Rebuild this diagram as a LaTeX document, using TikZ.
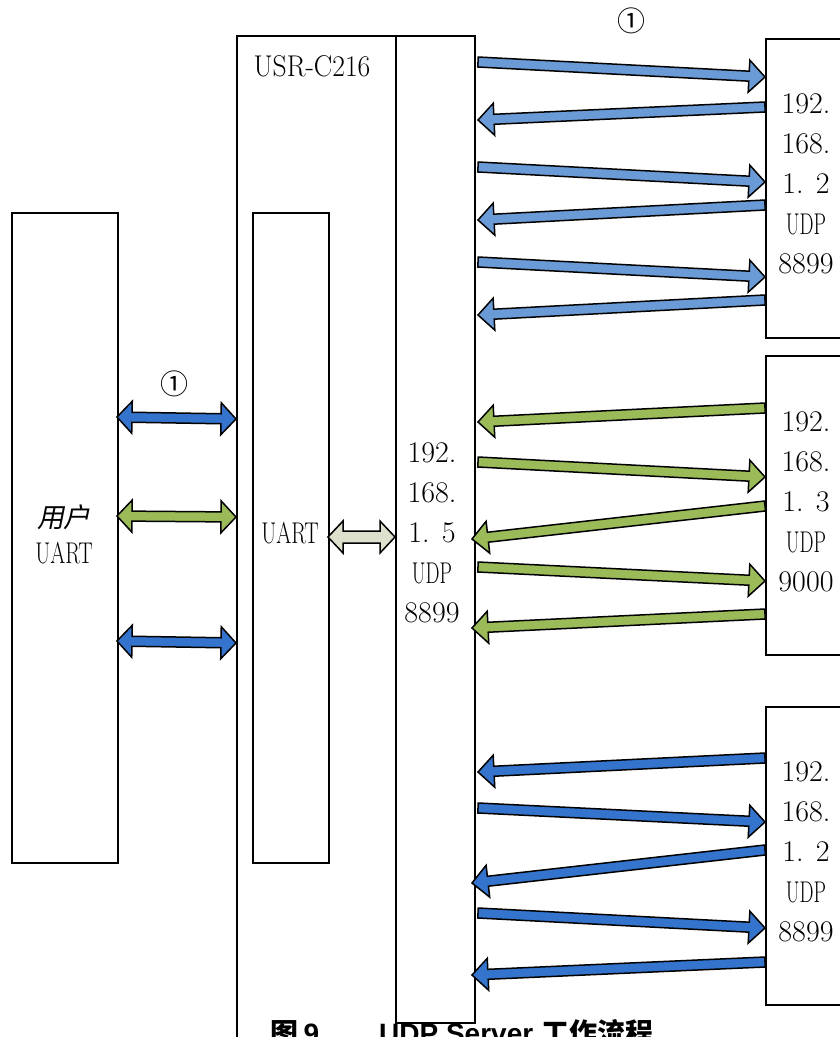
\documentclass[tikz,border=0pt]{standalone}
\usepackage{fontspec}
\usetikzlibrary{calc}
\newfontfamily\cjk[FakeSlant=0.2]{Noto Sans CJK SC}
\newfontfamily\capcjk{Noto Sans CJK SC}
\newfontfamily\capsans{Liberation Sans}
\definecolor{lblue}{RGB}{106,155,214}
\definecolor{dblue}{RGB}{52,116,204}
\definecolor{lgreen}{RGB}{155,187,89}
\definecolor{pale}{RGB}{221,224,204}
\newcommand\nar[2]{\scalebox{#1}[1]{#2}}
\tikzset{
  box/.style={draw, line width=1.6pt, fill=white, anchor=north west, inner sep=0pt},
  lbl/.style={font=\fontsize{30}{32}\selectfont, inner sep=0pt},
  arrline/.style={draw=black, line width=1.5pt, line join=miter},
  circnum/.style={font=\capcjk\fontsize{28}{30}\selectfont, inner sep=0pt},
}
\newcommand\blkarrow[3]{%
  \coordinate (blkH) at ($(#2)!16pt!(#1)$);
  \filldraw[arrline, fill=#3] ($(#1)!5pt!90:(#2)$) -- ($(blkH)!5pt!90:(#2)$) -- ($(blkH)!16pt!90:(#2)$) -- (#2)
    -- ($(blkH)!16pt!-90:(#2)$) -- ($(blkH)!5pt!-90:(#2)$) -- ($(#1)!5pt!-90:(#2)$) -- cycle;}
\newcommand\dblarrow[4]{%
  \coordinate (blkA) at ($(#1)!15pt!(#2)$);
  \coordinate (blkB) at ($(#2)!15pt!(#1)$);
  \filldraw[arrline, fill=#3] (#1) -- ($(blkA)!16pt!90:(#2)$) -- ($(blkA)!#4!90:(#2)$) -- ($(blkB)!#4!90:(#2)$)
    -- ($(blkB)!16pt!90:(#2)$) -- (#2) -- ($(blkB)!16pt!-90:(#2)$) -- ($(blkB)!#4!-90:(#2)$)
    -- ($(blkA)!#4!-90:(#2)$) -- ($(blkA)!16pt!-90:(#2)$) -- cycle;}
\begin{document}
\begin{tikzpicture}[x=1pt,y=-1pt]
\useasboundingbox (0,0) rectangle (839,1037);
% boxes
\node[box, minimum width=106pt, minimum height=650pt] (user) at (11,212) {};
\node[box, minimum width=159pt, minimum height=1020pt] (usr) at (236,35) {};
\node[box, minimum width=79pt, minimum height=987pt] (col) at (395,35) {};
\node[box, minimum width=76pt, minimum height=650pt] (uart) at (252,212) {};
\node[box, minimum width=100pt, minimum height=299pt] (r1) at (765,38) {};
\node[box, minimum width=100pt, minimum height=299pt] (r2) at (765,355) {};
\node[box, minimum width=100pt, minimum height=298pt] (r3) at (765,706) {};
% texts
\node[lbl] (tusr) at (312,66) {\nar{0.92}{USR-C216}};
\node[lbl, font=\cjk\fontsize{27}{30}\selectfont] (tuser1) at (64,517) {用户};
\node[lbl] (tuser2) at (64,553) {\nar{0.72}{UART}};
\node[lbl] (tuart) at (290,533) {\nar{0.72}{UART}};
\foreach \t [count=\i] in {192.,168.,1. 5,\nar{0.66}{UDP},8899}
  \node[lbl] (c\i) at (432,{413+40*\i}) {\t};
\foreach \t [count=\i] in {192.,168.,1. 2,\nar{0.66}{UDP},8899}
  \node[lbl] (ra\i) at (806,{64+40*\i}) {\t};
\foreach \t [count=\i] in {192.,168.,1. 3,\nar{0.66}{UDP},9000}
  \node[lbl] (rb\i) at (806,{382+40*\i}) {\t};
\foreach \t [count=\i] in {192.,168.,1. 2,\nar{0.66}{UDP},8899}
  \node[lbl] (rc\i) at (806,{732+40*\i}) {\t};
\node[circnum] (n1) at (631,21) {①};
\node[circnum] (n2) at (174,384) {①};
% left double arrows
\coordinate (l1a) at (117,417); \coordinate (l1b) at (236,419);
\coordinate (l2a) at (117,516); \coordinate (l2b) at (236,517);
\coordinate (l3a) at (117,641); \coordinate (l3b) at (236,643);
\dblarrow{l1a}{l1b}{dblue}{5pt}
\dblarrow{l2a}{l2b}{lgreen}{5pt}
\dblarrow{l3a}{l3b}{dblue}{5pt}
\coordinate (ua) at (328,537); \coordinate (ub) at (395,537);
\dblarrow{ua}{ub}{pale}{6pt}
% group 1
\coordinate (a1s) at (478,62);  \coordinate (a1e) at (765,77);
\coordinate (a2s) at (765,107); \coordinate (a2e) at (478,120);
\coordinate (a3s) at (478,167); \coordinate (a3e) at (765,182);
\coordinate (a4s) at (765,205); \coordinate (a4e) at (478,220);
\coordinate (a5s) at (478,262); \coordinate (a5e) at (765,277);
\coordinate (a6s) at (765,300); \coordinate (a6e) at (478,315);
\foreach \i in {1,...,6} {\blkarrow{a\i s}{a\i e}{lblue}}
% group 2
\coordinate (b1s) at (765,408); \coordinate (b1e) at (478,422);
\coordinate (b2s) at (478,462); \coordinate (b2e) at (765,477);
\coordinate (b3s) at (765,506); \coordinate (b3e) at (472,539);
\coordinate (b4s) at (478,567); \coordinate (b4e) at (765,581);
\coordinate (b5s) at (765,614); \coordinate (b5e) at (472,628);
\foreach \i in {1,...,5} {\blkarrow{b\i s}{b\i e}{lgreen}}
% group 3
\coordinate (c1s) at (765,758); \coordinate (c1e) at (478,772);
\coordinate (c2s) at (478,808); \coordinate (c2e) at (765,822);
\coordinate (c3s) at (765,850); \coordinate (c3e) at (472,883);
\coordinate (c4s) at (478,913); \coordinate (c4e) at (765,928);
\coordinate (c5s) at (765,962); \coordinate (c5e) at (472,975);
\foreach \i in {1,...,5} {\blkarrow{c\i s}{c\i e}{dblue}}
% caption (cut off at the bottom, as in the reference)
\node[anchor=base, inner sep=0pt, font=\bfseries\fontsize{28}{30}\selectfont] (cap) at (462,1043)
  {\capcjk 图\,\capsans 9\hspace{60pt}UDP Server \capcjk 工作流程};
\end{tikzpicture}
\end{document}
